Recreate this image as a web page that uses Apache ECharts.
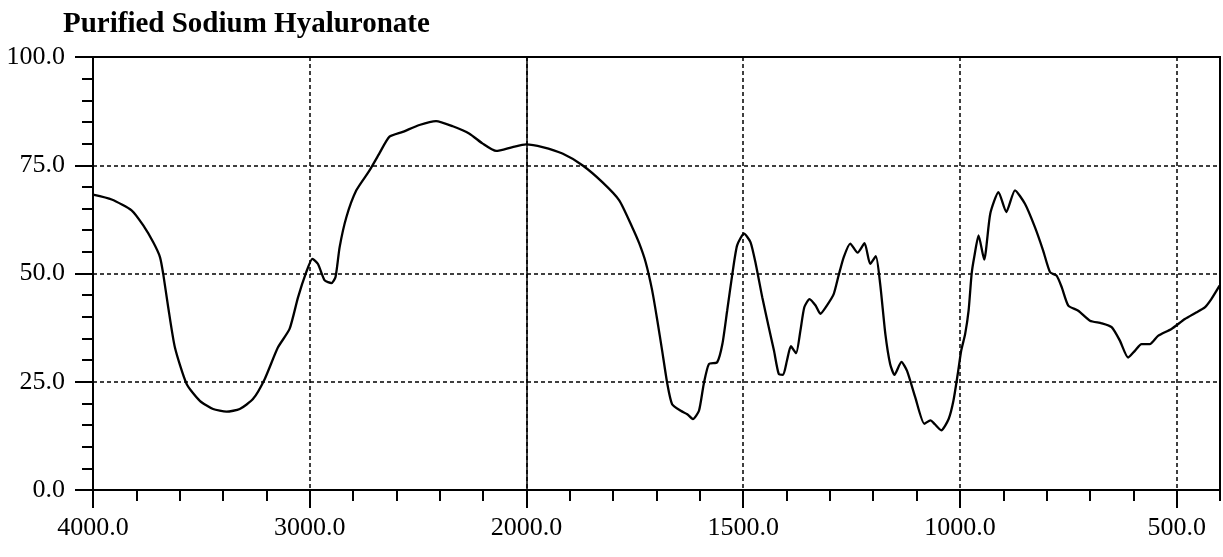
<!DOCTYPE html>
<html>
<head>
<meta charset="utf-8">
<script src="https://cdn.jsdelivr.net/npm/echarts@6/dist/echarts.min.js"></script>
<style>
html,body{margin:0;padding:0;background:#fff;}
#chart{width:1223px;height:557px;}
</style>
</head>
<body>
<div id="chart"></div>
<script>
// Wavenumber (cm-1) and transmittance (%T)
const wavenumbers = [4000,3914,3822,3768,3722,3691,3676,3653,3622,3568,3507,3446,3384,3323,3262,3208,3147,3093,3054,3016,2988,2962,2931,2900,2881,2862,2831,2785,2724,2678,2632,2571,2494,2417,2340,2263,2202,2140,2064,2002,1963,1917,1871,1825,1786,1756,1740,1725,1710,1698,1687,1675,1664,1644,1629,1616,1602,1591,1579,1560,1548,1537,1525,1514,1498,1483,1471,1456,1441,1429,1418,1408,1399,1390,1378,1368,1359,1347,1333,1322,1307,1291,1280,1268,1253,1236,1220,1207,1194,1184,1172,1161,1151,1135,1122,1103,1082,1068,1058,1043,1026,1015,1005,997,988,980,973,967,957,944,930,911,893,873,850,827,808,792,777,765,750,727,700,673,650,631,612,596,581,562,543,512,481,455,435,420,401];
const transmittance = [68.2,67.1,64.6,61.1,57.2,53.8,49.9,42.2,32.9,24.5,20.6,18.7,18.1,18.7,21.0,25.6,32.9,37.2,44.5,50.3,53.4,52.2,48.4,47.8,49.2,56.1,63.0,69.2,73.8,77.8,81.6,82.7,84.3,85.2,84.0,82.3,80.0,78.3,79.2,79.8,79.2,77.7,75.0,71.1,66.9,60.7,57.0,52.6,46.1,39.1,32.2,24.5,19.8,18.3,17.5,16.4,18.3,24.5,29.1,29.5,33.7,41.4,49.9,56.5,59.2,57.2,52.2,44.5,37.6,32.2,26.8,26.6,29.9,33.2,31.6,36.8,42.2,44.1,42.6,40.7,42.6,45.3,49.5,53.8,56.9,54.8,57.0,52.2,54.0,47.6,36.0,29.1,26.6,29.6,27.5,21.4,15.3,16.1,15.2,13.8,16.4,20.6,26.8,32.2,36.0,41.4,49.9,53.8,58.8,53.2,63.8,68.8,64.2,69.2,66.1,60.7,55.3,50.3,49.5,46.8,42.6,41.4,39.1,38.5,37.6,34.5,30.6,32.2,33.7,33.7,35.6,37.2,39.5,41.0,42.2,44.1,47.2];

const xTickLabels = [4000, 3000, 2000, 1500, 1000, 500];
const yTickLabels = [0, 25, 50, 75, 100];
const titleText = 'Purified Sodium Hyaluronate';

// Spectrometer axis: 4000-2000 compressed 2x relative to 2000-400
function toPos(w) { return w >= 2000 ? (4000 - w) / 2 : 1000 + (2000 - w); }
function toWn(p) { return p <= 1000 ? 4000 - 2 * p : 2000 - (p - 1000); }

const FONT = 'Liberation Serif';
const black = '#000';
const xMin = toPos(4000), xMax = toPos(400);

const chart = echarts.init(document.getElementById('chart'), null, {renderer: 'canvas'});
chart.setOption({
  animation: false,
  backgroundColor: '#fff',
  title: {
    text: titleText, left: 58, top: 5,
    textStyle: {fontFamily: FONT, fontWeight: 'bold', fontSize: 29, color: black}
  },
  grid: {
    left: 93, right: 3, top: 57, bottom: 67,
    show: true, borderColor: black, borderWidth: 2,
    outerBoundsMode: 'none', containLabel: false
  },
  xAxis: [
    {
      type: 'value', min: xMin, max: xMax, interval: 100, position: 'bottom',
      axisLine: {show: true, lineStyle: {color: black, width: 2}},
      axisTick: {show: true, length: 11, lineStyle: {color: black, width: 2}},
      axisLabel: {
        margin: 25, fontFamily: FONT, fontSize: 26, color: black,
        formatter: function (p) {
          const w = Math.round(toWn(p));
          return xTickLabels.indexOf(w) >= 0 ? w.toFixed(1) : '';
        }
      },
      splitLine: {show: false}
    },
    {
      type: 'value', min: xMin, max: xMax, interval: 500, position: 'bottom',
      axisLine: {show: false},
      axisTick: {show: true, length: 18, lineStyle: {color: black, width: 2},
        customValues: xTickLabels.map(toPos)},
      axisLabel: {show: false},
      splitLine: {show: true, lineStyle: {color: black, width: 1.5, type: [4, 3]}}
    }
  ],
  yAxis: {
    type: 'value', min: 0, max: 100, interval: 25,
    axisLine: {show: true, lineStyle: {color: black, width: 2}},
    axisTick: {show: true, length: 18, lineStyle: {color: black, width: 2}},
    minorTick: {show: true, splitNumber: 5, length: 11, lineStyle: {color: black, width: 2}},
    axisLabel: {
      margin: 28, fontFamily: FONT, fontSize: 26, color: black,
      formatter: function (v) { return yTickLabels.indexOf(v) >= 0 ? v.toFixed(1) : ''; }
    },
    splitLine: {show: true, lineStyle: {color: black, width: 1.5, type: [4, 3]}}
  },
  series: [{
    type: 'line',
    xAxisIndex: 0,
    data: wavenumbers.map((w, i) => [toPos(w), transmittance[i]]),
    showSymbol: false,
    symbol: 'none',
    smooth: 0.2,
    lineStyle: {color: black, width: 2.3},
    z: 5,
    markLine: {
      silent: true, symbol: ['none', 'none'], label: {show: false},
      lineStyle: {type: 'solid', color: black, width: 1.5},
      data: [{xAxis: toPos(2000)}]
    }
  }]
});
</script>
</body>
</html>
